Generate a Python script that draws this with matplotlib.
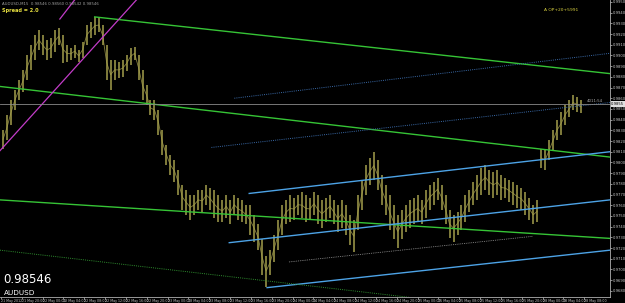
import matplotlib
matplotlib.use("Agg")
import matplotlib.pyplot as plt
import numpy as np

# AUDUSD M15, bar highs / lows (one entry per ~46 min)
highs = [0.9830, 0.9844, 0.9858, 0.9868, 0.9877, 0.9886, 0.9900, 0.9910, 0.9919, 0.9924,
         0.9919, 0.9914, 0.9916, 0.9924, 0.9926, 0.9919, 0.9910, 0.9907, 0.9910, 0.9905,
         0.9913, 0.9928, 0.9931, 0.9936, 0.9935, 0.9928, 0.9910, 0.9896, 0.9896, 0.9894,
         0.9896, 0.9900, 0.9907, 0.9908, 0.9900, 0.9886, 0.9872, 0.9858, 0.9858, 0.9849,
         0.9830, 0.9816, 0.9807, 0.9802, 0.9793, 0.9779, 0.9774, 0.9770, 0.9770, 0.9774,
         0.9774, 0.9779, 0.9776, 0.9774, 0.9770, 0.9765, 0.9770, 0.9765, 0.9770, 0.9767,
         0.9765, 0.9760, 0.9760, 0.9751, 0.9742, 0.9728, 0.9713, 0.9718, 0.9732, 0.9746,
         0.9760, 0.9765, 0.9770, 0.9767, 0.9770, 0.9772, 0.9770, 0.9767, 0.9772, 0.9770,
         0.9765, 0.9767, 0.9770, 0.9765, 0.9760, 0.9765, 0.9760, 0.9751, 0.9746, 0.9770,
         0.9784, 0.9798, 0.9804, 0.9810, 0.9802, 0.9788, 0.9779, 0.9770, 0.9760, 0.9751,
         0.9756, 0.9760, 0.9765, 0.9767, 0.9770, 0.9765, 0.9774, 0.9779, 0.9782, 0.9785,
         0.9779, 0.9770, 0.9756, 0.9751, 0.9754, 0.9760, 0.9770, 0.9774, 0.9782, 0.9788,
         0.9795, 0.9798, 0.9793, 0.9791, 0.9793, 0.9788, 0.9785, 0.9784, 0.9782, 0.9779,
         0.9776, 0.9772, 0.9767, 0.9760, 0.9765, 0.9813, 0.9812, 0.9821, 0.9830, 0.9840,
         0.9847, 0.9854, 0.9858, 0.9863, 0.9861, 0.9858]
lows = [0.9813, 0.9821, 0.9835, 0.9849, 0.9858, 0.9866, 0.9877, 0.9886, 0.9896, 0.9905,
        0.9900, 0.9896, 0.9898, 0.9903, 0.9910, 0.9893, 0.9894, 0.9896, 0.9898, 0.9894,
        0.9898, 0.9910, 0.9916, 0.9919, 0.9922, 0.9910, 0.9877, 0.9868, 0.9877, 0.9879,
        0.9880, 0.9885, 0.9891, 0.9896, 0.9877, 0.9858, 0.9854, 0.9844, 0.9840, 0.9826,
        0.9807, 0.9798, 0.9788, 0.9782, 0.9770, 0.9756, 0.9751, 0.9746, 0.9751, 0.9756,
        0.9754, 0.9760, 0.9756, 0.9748, 0.9744, 0.9744, 0.9748, 0.9742, 0.9751, 0.9746,
        0.9744, 0.9742, 0.9732, 0.9726, 0.9718, 0.9695, 0.9684, 0.9695, 0.9707, 0.9718,
        0.9732, 0.9742, 0.9744, 0.9746, 0.9751, 0.9748, 0.9744, 0.9746, 0.9751, 0.9742,
        0.9739, 0.9744, 0.9748, 0.9742, 0.9735, 0.9739, 0.9732, 0.9723, 0.9716, 0.9737,
        0.9756, 0.9770, 0.9779, 0.9784, 0.9774, 0.9760, 0.9751, 0.9737, 0.9728, 0.9720,
        0.9728, 0.9735, 0.9739, 0.9742, 0.9744, 0.9742, 0.9748, 0.9756, 0.9760, 0.9765,
        0.9756, 0.9742, 0.9729, 0.9726, 0.9732, 0.9737, 0.9744, 0.9754, 0.9760, 0.9765,
        0.9770, 0.9774, 0.9770, 0.9767, 0.9770, 0.9765, 0.9767, 0.9763, 0.9760, 0.9757,
        0.9756, 0.9751, 0.9746, 0.9742, 0.9744, 0.9795, 0.9793, 0.9802, 0.9812, 0.9821,
        0.9826, 0.9835, 0.9842, 0.9849, 0.9847, 0.9846]
last_price = 0.98546
weekend_gap = 135  # first bar of Monday's session

# trend lines: (hour, price) end points; hours counted from 21 May 16:00
green_lines = [[(17.99, 0.9936), (116.94, 0.9883)],
               [(-0.19, 0.9871), (116.94, 0.9805)],
               [(-0.19, 0.9765), (116.94, 0.9729)]]
blue_lines = [[(47.66, 0.9771), (116.94, 0.9810)],
              [(43.83, 0.9725), (116.94, 0.9765)],
              [(51.10, 0.9683), (116.94, 0.9718)]]
magenta_lines = [[(-0.19, 0.9811), (26.03, 0.9952)],
                 [(11.30, 0.9934), (14.16, 0.9952)]]
blue_dotted = [[(44.80, 0.9860), (116.94, 0.9902)],
               [(40.40, 0.9814), (116.94, 0.9856)]]
white_dotted = [[(55.30, 0.9707), (102.20, 0.9731)]]
green_dotted = [[(-0.19, 0.9718), (78.30, 0.9674)]]

time_labels = ["21 May 2012", "21 May 20:00",
               "22 May 00:00", "22 May 04:00", "22 May 08:00", "22 May 12:00", "22 May 16:00", "22 May 20:00",
               "23 May 00:00", "23 May 04:00", "23 May 08:00", "23 May 12:00", "23 May 16:00", "23 May 20:00",
               "24 May 00:00", "24 May 04:00", "24 May 08:00", "24 May 12:00", "24 May 16:00", "24 May 20:00",
               "25 May 00:00", "25 May 04:00", "25 May 08:00", "25 May 12:00", "25 May 16:00", "25 May 20:00",
               "28 May 00:00", "28 May 04:00", "28 May 08:00"]
price_ticks = np.round(np.arange(0.9680, 0.9951, 0.0010), 4)

GREEN = "#36c436"
BLUE = "#4da3e6"
MAGENTA = "#c23cc8"
BAR = "#a49e4c"
AXIS_TXT = "#c8c8c8"

fig = plt.figure(figsize=(6.25, 3.03), dpi=100, facecolor="black")
ax = fig.add_axes([0, 6.5 / 303, 610 / 625, 296.5 / 303])
ax.set_facecolor("black")

xs = 0.38 + 0.7656 * np.arange(len(highs))
ax.vlines(xs, lows, highs, color=BAR, linewidth=1.1)
mids = (np.array(highs) + np.array(lows)) / 2
for seg in (slice(0, weekend_gap), slice(weekend_gap, None)):
    ax.plot(xs[seg], mids[seg], color=BAR, linewidth=0.6, alpha=0.8)

def draw(lines, color, style="-", lw=0.9):
    for (x0, y0), (x1, y1) in lines:
        ax.plot([x0, x1], [y0, y1], color=color, linestyle=style, linewidth=lw)

draw(green_lines, GREEN, lw=1.0)
draw(blue_lines, BLUE, lw=1.0)
draw(magenta_lines, MAGENTA, lw=0.9)
draw(blue_dotted, "#3a6aa8", style=(0, (1, 1.2)), lw=0.7)
draw(white_dotted, "#9a9a9a", style=(0, (1, 1.2)), lw=0.6)
draw(green_dotted, "#2f8f2f", style=(0, (1, 1.2)), lw=0.7)

ax.axhline(last_price, color="#8a8a8a", linewidth=0.6)

ax.set_xlim(-0.19, 116.94)
ax.set_ylim(0.96747, 0.99518)

# axes styling in MetaTrader fashion
for side in ("left", "top"):
    ax.spines[side].set_visible(False)
for side in ("right", "bottom"):
    ax.spines[side].set_color("#b0b0b0")
    ax.spines[side].set_linewidth(0.6)

ax.yaxis.tick_right()
ax.set_yticks(price_ticks)
ax.set_yticklabels([f"{p:.4f}" for p in price_ticks])
ax.tick_params(axis="y", colors=AXIS_TXT, labelsize=2.7, length=1.2, width=0.5, pad=0.5)

tick_hours = np.arange(len(time_labels)) * 4.0
ax.set_xticks(tick_hours)
ax.set_xticklabels(time_labels, ha="left")
ax.tick_params(axis="x", colors=AXIS_TXT, labelsize=2.35, length=1.5, width=0.5, pad=0.5)

# current price marker on the scale
ax.text(1.002, last_price, f"{last_price:.4f}", transform=ax.get_yaxis_transform(),
        fontsize=2.7, color="black", va="center", ha="left",
        bbox=dict(boxstyle="square,pad=0.15", facecolor="#e0e0e0", edgecolor="none"),
        clip_on=False)

# header and indicator texts
ax.text(0.004, 0.993, "AUDUSD,M15  0.98546 0.98560 0.98542 0.98546", transform=ax.transAxes,
        fontsize=2.8, color="#a0a0a0", va="top", ha="left")
ax.text(0.004, 0.972, "Spread = 2.0", transform=ax.transAxes,
        fontsize=3.6, color="#e8e040", va="top", ha="left", fontweight="bold")
ax.text(0.948, 0.972, "A OP+20+5991", transform=ax.transAxes,
        fontsize=3.2, color="#d8d040", va="top", ha="right")
ax.text(0.962, (last_price - 0.96747) / (0.99518 - 0.96747) + 0.004, "4011:54",
        transform=ax.transAxes, fontsize=2.8, color="#a8a8a8", va="bottom", ha="left")
ax.text(0.006, 0.035, f"{last_price:.5f}", transform=ax.transAxes,
        fontsize=8.5, color="white", va="bottom", ha="left")
ax.text(0.006, 0.003, "AUDUSD", transform=ax.transAxes,
        fontsize=5.2, color="white", va="bottom", ha="left")

fig.savefig("out.png", dpi=100, facecolor="black")
